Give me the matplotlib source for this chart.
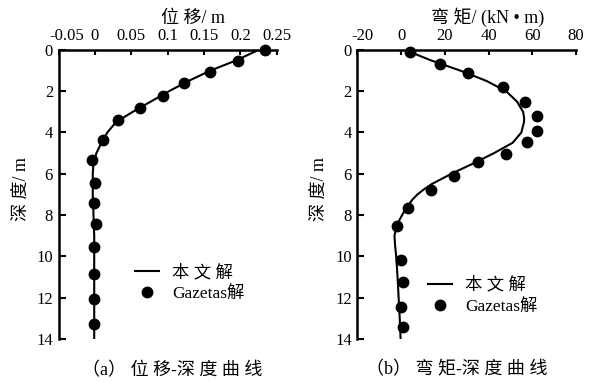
import matplotlib
matplotlib.use("Agg")
import matplotlib.pyplot as plt
from matplotlib.lines import Line2D
from matplotlib.transforms import ScaledTranslation

plt.rcParams['font.family'] = ['Liberation Serif', 'Noto Sans CJK SC', 'DejaVu Sans']
plt.rcParams['axes.unicode_minus'] = False

# ---- displacement vs depth ----
disp_curve_depth = [0.0, 0.5, 1.0, 1.5, 2.0, 2.5, 3.0, 3.5, 4.0, 4.5, 5.0, 5.5, 6.0,
                    7.0, 8.0, 9.0, 10.0, 11.0, 12.0, 13.0, 14.0]
disp_curve = [0.225, 0.195, 0.159, 0.129, 0.102, 0.077, 0.052, 0.029, 0.017, 0.009,
              0.002, -0.002, -0.003, -0.003, -0.002, -0.001, -0.001, -0.001, -0.001,
              -0.001, -0.001]
disp_gaz_depth = [0.0, 0.53, 1.08, 1.6, 2.23, 2.83, 3.4, 4.36, 5.34, 6.45, 7.4, 8.42,
                  9.55, 10.85, 12.08, 13.27]
disp_gaz = [0.234, 0.197, 0.159, 0.123, 0.093, 0.062, 0.032, 0.0115, -0.004, -0.0004,
            -0.001, 0.0018, -0.001, -0.001, -0.001, -0.001]
disp_ticks = [-0.05, 0, 0.05, 0.1, 0.15, 0.2, 0.25]
disp_ticklabels = ['-0.05', '0', '0.05', '0.1', '0.15', '0.2', '0.25']

# ---- bending moment vs depth ----
mom_curve_depth = [0.0, 0.5, 1.0, 1.5, 2.0, 2.5, 3.0, 3.3, 3.5, 4.0, 4.5, 5.0, 5.5, 6.0,
                   6.5, 6.75, 7.0, 7.25, 7.5, 7.75, 8.0, 8.25, 8.5, 8.75, 9.0, 9.5,
                   10.0, 11.0, 12.0, 13.0, 14.0]
mom_curve = [1.8, 13.5, 27.0, 39.0, 48.0, 53.0, 55.8, 56.3, 56.2, 55.0, 51.0, 42.5,
             33.0, 23.0, 14.0, 10.5, 7.5, 5.2, 3.5, 1.8, 0.5, -0.8, -1.8, -2.5, -3.0,
             -2.7, -2.2, -1.6, -1.1, -0.6, -0.2]
mom_gaz_depth = [0.11, 0.68, 1.11, 1.79, 2.5, 3.2, 3.92, 4.47, 5.05, 5.44, 6.1, 6.78,
                 7.66, 8.55, 10.17, 11.22, 12.46, 13.4]
mom_gaz = [4.1, 17.8, 30.7, 46.7, 56.6, 62.0, 62.0, 57.7, 47.9, 35.3, 24.3, 13.7, 3.0,
           -2.0, 0.0, 1.1, 0.0, 1.1]
mom_ticks = [-20, 0, 20, 40, 60, 80]

depth_ticks = [0, 2, 4, 6, 8, 10, 12, 14]

label_line = '本 文 解'
label_dots = 'Gazetas解'

fig = plt.figure(figsize=(5.95, 3.82), dpi=100)
bottom, height = 0.1126, 0.7568
ax1 = fig.add_axes([0.0985, bottom, 0.3664, height])
ax2 = fig.add_axes([0.6005, bottom, 0.3676, height])

TICK_FS = 12
LABEL_FS = 13


def style(ax, xlim, xticks, xticklabels):
    ax.set_xlim(*xlim)
    ax.set_ylim(14, 0)
    ax.set_xticks(xticks)
    ax.set_xticklabels(xticklabels)
    ax.set_yticks(depth_ticks)
    ax.xaxis.tick_top()
    ax.xaxis.set_label_position('top')
    for s in ['right', 'bottom']:
        ax.spines[s].set_visible(False)
    for s in ['left', 'top']:
        ax.spines[s].set_linewidth(1.8)
    ax.tick_params(axis='x', direction='in', length=3.5, width=1.5, pad=4, labelsize=TICK_FS)
    ax.tick_params(axis='y', direction='in', length=5, width=1.5, pad=4, labelsize=TICK_FS)


style(ax1, (-0.05, 0.25), disp_ticks, disp_ticklabels)
style(ax2, (-20, 80), mom_ticks, [str(t) for t in mom_ticks])

# nudge the corner tick labels off the depth axis
for ax, dx in ((ax1, 8), (ax2, 5)):
    first = ax.get_xticklabels()[0]
    first.set_transform(first.get_transform() + ScaledTranslation(dx / 100, 0, fig.dpi_scale_trans))

ax1.plot(disp_curve, disp_curve_depth, color='black', lw=1.5)
ax1.plot(disp_gaz, disp_gaz_depth, 'o', color='black', ms=7.5, clip_on=False)
ax2.plot(mom_curve, mom_curve_depth, color='black', lw=1.5)
ax2.plot(mom_gaz, mom_gaz_depth, 'o', color='black', ms=7.5, clip_on=False)

ax1.set_xlabel('位 移/ m', fontsize=LABEL_FS)
ax1.xaxis.set_label_coords(0.617, 1.092)
ax2.set_xlabel('弯 矩/ (kN • m)', fontsize=LABEL_FS)
ax2.xaxis.set_label_coords(0.598, 1.092)

for ax in (ax1, ax2):
    ax.set_ylabel('深 度/ m', fontsize=LABEL_FS)
ax1.yaxis.set_label_coords(-0.13, 0.52)
ax2.yaxis.set_label_coords(-0.135, 0.52)

handles = [Line2D([], [], color='black', lw=1.5),
           Line2D([], [], ls='none', marker='o', color='black', ms=7.5)]
for ax, anchor in ((ax1, (0.350, 0.258)), (ax2, (0.323, 0.214))):
    ax.legend(handles, [label_line, label_dots], loc='upper left', bbox_to_anchor=anchor,
              frameon=False, fontsize=12.5, handlelength=1.4, handletextpad=0.75,
              labelspacing=0.3, borderpad=0, borderaxespad=0)

fig.text(172 / 595, 1 - 371 / 382, '（a） 位 移-深 度 曲 线', ha='center', va='center',
         fontsize=LABEL_FS)
fig.text(457 / 595, 1 - 370 / 382, '（b） 弯 矩-深 度 曲 线', ha='center', va='center',
         fontsize=LABEL_FS)

fig.savefig('out.png', dpi=100)
